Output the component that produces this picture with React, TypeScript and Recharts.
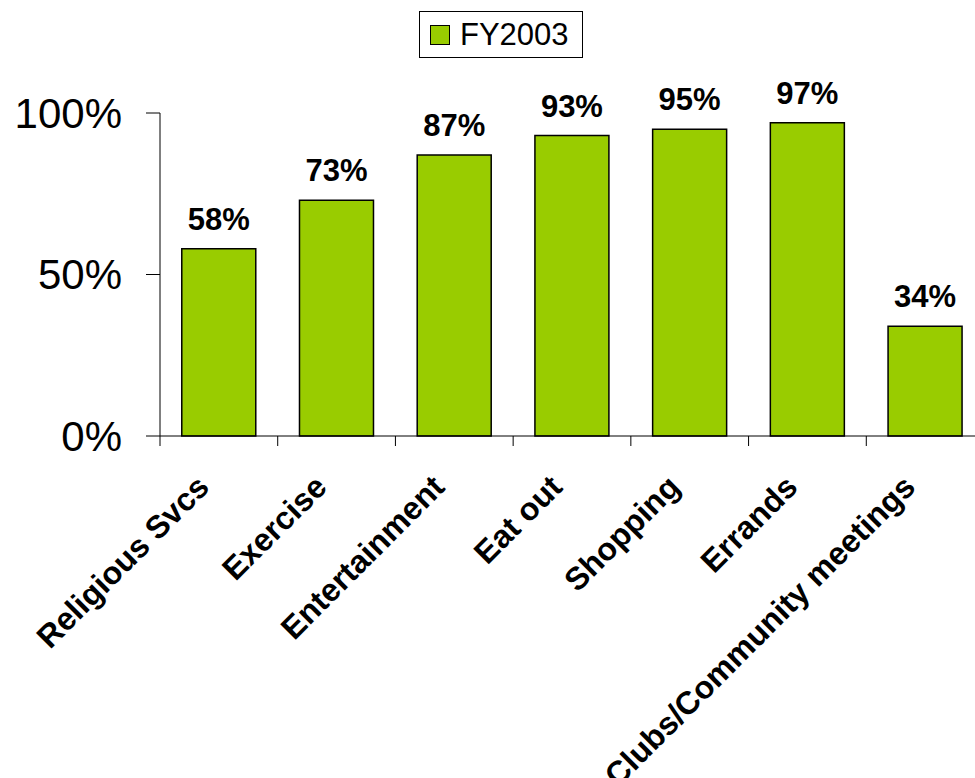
import { Bar, BarChart, LabelList, Legend, XAxis, YAxis } from "recharts";

const categories = [
  "Religious Svcs",
  "Exercise",
  "Entertainment",
  "Eat out",
  "Shopping",
  "Errands",
  "Clubs/Community meetings",
];
const fy2003 = [58, 73, 87, 93, 95, 97, 34];
const yTicks = [0, 50, 100];

const data = categories.map((name, i) => ({ name, FY2003: fy2003[i] }));

const FONT = '"Liberation Sans", Arial, sans-serif';
const GREEN = "#99CC00";

function CategoryTick(props: any) {
  const { x, y, payload } = props;
  const off = payload?.offset ?? 0;
  const ax = x - 8;
  const ay = y + 53;
  return (
    <g>
      <line x1={x - off} y1={y} x2={x - off} y2={y + 10} stroke="#000" strokeWidth={1} />
      <text
        x={ax}
        y={ay}
        transform={`rotate(-45, ${ax}, ${ay})`}
        textAnchor="end"
        fontFamily={FONT}
        fontWeight="bold"
        fontSize={32}
        fill="#000"
      >
        {payload.value}
      </text>
    </g>
  );
}

function LegendBox() {
  return (
    <div
      style={{
        boxSizing: "border-box",
        width: 164,
        height: 47,
        border: "1px solid #000",
        background: "#fff",
        display: "flex",
        alignItems: "center",
        paddingLeft: 10,
        fontFamily: FONT,
        fontSize: 31,
        color: "#000",
      }}
    >
      <span
        style={{
          display: "inline-block",
          boxSizing: "border-box",
          width: 20,
          height: 20,
          background: GREEN,
          border: "1px solid #000",
          marginRight: 10,
        }}
      />
      <span style={{ lineHeight: "31px" }}>FY2003</span>
    </div>
  );
}

export default function App() {
  return (
    <div style={{ position: "absolute", left: 0, top: 0, width: 975, height: 778, overflow: "hidden", background: "#fff" }}>
      <BarChart
        width={1000}
        height={778}
        data={data}
        margin={{ top: 66, right: 16, left: 0, bottom: 282 }}
        barCategoryGap="18.5%"
      >
        <Legend
          verticalAlign="top"
          content={() => <LegendBox />}
          wrapperStyle={{ left: 419, top: 11, width: 164, height: 47 }}
        />
        <XAxis
          dataKey="name"
          height={60}
          interval={0}
          tickLine={false}
          tickSize={0}
          tickMargin={0}
          axisLine={{ stroke: "#000", strokeWidth: 1 }}
          tick={<CategoryTick />}
        />
        <YAxis
          width={160}
          domain={[0, 100]}
          ticks={yTicks}
          tickFormatter={(v: number) => `${v}%`}
          tickSize={14}
          tickMargin={24}
          axisLine={{ stroke: "#000", strokeWidth: 1 }}
          tickLine={{ stroke: "#000", strokeWidth: 1 }}
          tick={{ fontFamily: FONT, fontSize: 42, fill: "#000" }}
        />
        <Bar dataKey="FY2003" fill={GREEN} stroke="#000" strokeWidth={1.5} isAnimationActive={false}>
          <LabelList
            dataKey="FY2003"
            position="top"
            offset={19}
            formatter={(v: any) => `${v}%`}
            style={{ fontFamily: FONT, fontWeight: "bold", fontSize: 31, fill: "#000" }}
          />
        </Bar>
      </BarChart>
    </div>
  );
}
